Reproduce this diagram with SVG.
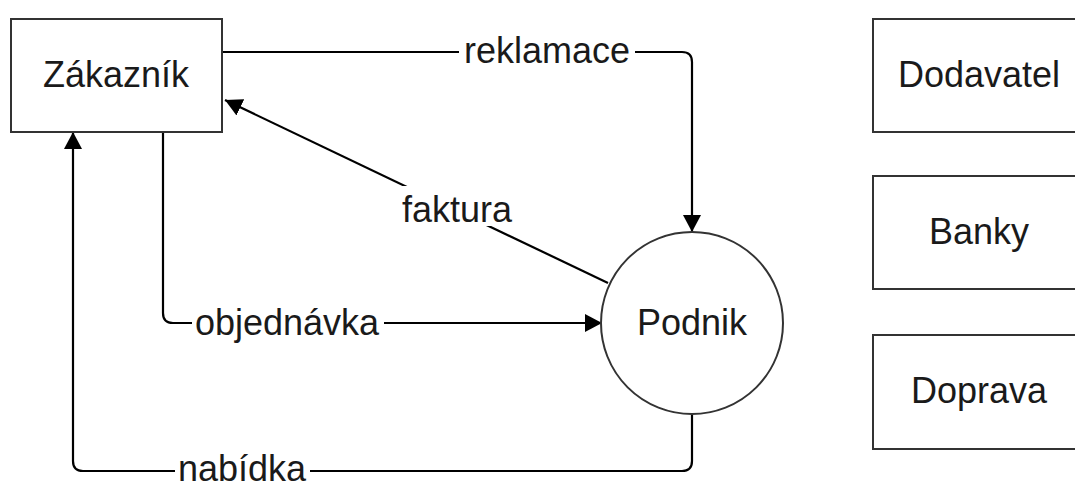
<svg xmlns="http://www.w3.org/2000/svg" width="1075" height="488" viewBox="0 0 1075 488">
  <style>
    .box { fill: #ffffff; stroke: #333333; stroke-width: 2; }
    .txt { font-family: "Liberation Sans", Arial, sans-serif; font-size: 36px; fill: #1a1a1a; text-anchor: middle; }
    .edge { fill: none; stroke: #000000; stroke-width: 2.2; }
    .lbg { fill: #ffffff; }
  </style>
  <defs>
    <marker id="arrow" markerUnits="userSpaceOnUse" markerWidth="18" markerHeight="18" refX="17" refY="9" orient="auto">
      <path d="M0,0 L17,9 L0,18 Z" fill="#000000"/>
    </marker>
  </defs>
  <rect width="1075" height="488" fill="#ffffff"/>

  <g id="connectors">
    <g id="edge-reklamace">
      <path class="edge" d="M222,52 H682 Q692,52 692,62 V232" marker-end="url(#arrow)"/>
      <rect class="lbg" x="459" y="34" width="176" height="36"/>
      <text class="txt" x="547" y="63">reklamace</text>
    </g>
    <g id="edge-faktura">
      <path class="edge" d="M608,283 L225,100" marker-end="url(#arrow)"/>
      <rect class="lbg" x="399" y="186" width="116" height="40"/>
      <text class="txt" x="457" y="222">faktura</text>
    </g>
    <g id="edge-objednavka">
      <path class="edge" d="M163,132 V313 Q163,323 173,323 H602" marker-end="url(#arrow)"/>
      <rect class="lbg" x="192" y="305" width="192" height="36"/>
      <text class="txt" x="287" y="335">objednávka</text>
    </g>
    <g id="edge-nabidka">
      <path class="edge" d="M692,415 V461 Q692,471 682,471 H83 Q73,471 73,461 V132" marker-end="url(#arrow)"/>
      <rect class="lbg" x="175" y="452" width="135" height="34"/>
      <text class="txt" x="242" y="481">nabídka</text>
    </g>
  </g>

  <g id="node-zakaznik">
    <rect class="box" x="11" y="19" width="211" height="113"/>
    <text class="txt" x="116" y="87">Zákazník</text>
  </g>
  <g id="node-podnik">
    <circle class="box" cx="692" cy="323" r="91"/>
    <text class="txt" x="692" y="335">Podnik</text>
  </g>
  <g id="node-dodavatel">
    <rect class="box" x="873" y="19" width="211" height="113"/>
    <text class="txt" x="979" y="87">Dodavatel</text>
  </g>
  <g id="node-banky">
    <rect class="box" x="873" y="176" width="211" height="113"/>
    <text class="txt" x="979" y="244">Banky</text>
  </g>
  <g id="node-doprava">
    <rect class="box" x="873" y="335" width="211" height="114"/>
    <text class="txt" x="979" y="403">Doprava</text>
  </g>
</svg>
